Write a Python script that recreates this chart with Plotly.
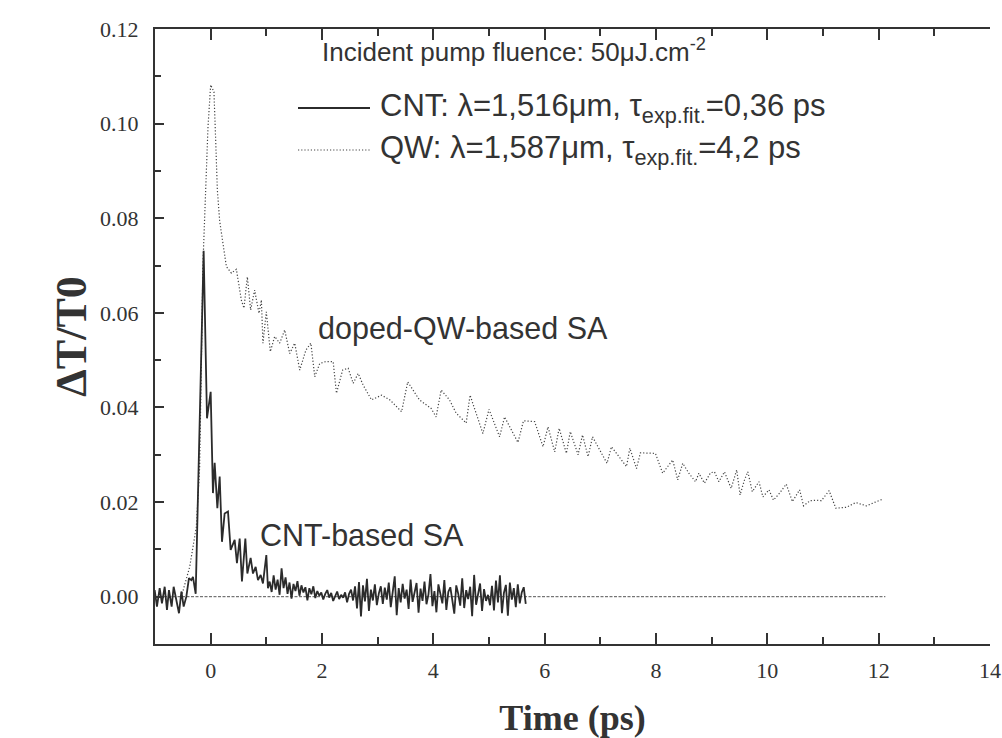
import numpy as np
import plotly.graph_objects as go

# ---------------- data ----------------
# CNT-based SA : explicit samples up to ~1 ps
cnt_head_t = [-1.006, -0.965, -0.916, -0.875, -0.826, -0.785, -0.749, -0.701, -0.665, -0.616,
              -0.569, -0.526, -0.485, -0.437, -0.390, -0.347, -0.318, -0.269, -0.126, -0.066,
              0.000, 0.041, 0.072, 0.120, 0.162, 0.203, 0.251, 0.311, 0.359, 0.431,
              0.472, 0.521, 0.562, 0.623, 0.659, 0.718, 0.760, 0.808, 0.850, 0.898,
              0.939, 1.000, 1.029]
cnt_head_v = [0.0014, -0.0021, 0.0018, -0.0014, 0.0021, -0.0028, 0.0014, -0.0021, 0.0021, -0.0007,
              -0.0035, 0.0011, -0.0021, 0.0000, 0.0039, 0.0035, 0.0042, 0.0006, 0.0731, 0.0377,
              0.0433, 0.0219, 0.0283, 0.0187, 0.0254, 0.0116, 0.0176, 0.0180, 0.0099, 0.0120,
              0.0071, 0.0123, 0.0032, 0.0123, 0.0049, 0.0082, 0.0049, 0.0063, 0.0035, 0.0046,
              0.0028, 0.0088, 0.0018]
# CNT-based SA : noisy tail (values in units of 1e-3), evenly sampled from 1.06 to 5.66 ps
cnt_tail_start, cnt_tail_end = 1.06, 5.66
cnt_tail_milli = [3.2, 1.0, 4.5, 1.5, 3.6, 0.4, 6.0, 1.8, 4.1, 0.6, 3.0, -0.4, 2.7, 1.2, 3.3, 0.2,
                  2.4, 0.9, 2.0, -0.8, 1.8, 0.5, 2.2, -0.3,
                  1.2, 0.2, 0.9, -0.6, 0.6, 1.4, -0.2, 0.8, -0.9, 0.3, 1.1, -0.5, 0.4, -0.2,
                  0.9, -1.2, 0.6, 1.5, -0.8, 2.2,
                  -2.5, 3.1, -4.2, 2.4, -1.0, 3.8, -3.0, 1.5, -0.8, 2.6, -1.8, 0.7, 2.2, -1.5,
                  1.9, -0.6, 3.0, -2.2, 1.0, 4.3, -3.9, 1.8, -1.2, 2.7, -0.4, 1.5, -2.6, 3.6,
                  -1.1, 0.8, 2.9, -3.4, 1.7, -0.9, 3.2, -1.6, 0.5, 4.8, -2.0, 1.2, -3.3, 2.6,
                  0.3, -1.4, 3.5, -2.8, 1.0, 2.0, -0.7, -3.6, 2.4, 0.6, -1.9, 3.9, -2.4, 1.4,
                  -0.5, 2.1, -4.1, 4.6, -1.7, 0.9, 2.8, -3.0, 1.6, -0.9, 0.4, -1.8, 2.3, -2.9,
                  3.4, -1.2, 4.5, -3.5, 0.8, 2.5, -4.0, 3.0, -0.6, 1.8, -2.2, 2.6, -1.4, 0.9,
                  2.0, -1.5]

# doped-QW-based SA
qw_t = [-0.526, -0.377, -0.257, -0.198, -0.138, -0.090, -0.048, 0.000, 0.059, 0.090,
        0.120, 0.162, 0.221, 0.282, 0.372, 0.462, 0.551, 0.598, 0.659, 0.718,
        0.790, 0.868, 0.911, 0.939, 1.000, 1.072, 1.150, 1.240, 1.330, 1.420,
        1.510, 1.600, 1.710, 1.800, 1.870, 1.960, 2.070, 2.200, 2.260, 2.370,
        2.470, 2.560, 2.650, 2.740, 2.890, 3.070, 3.220, 3.430, 3.540, 3.750,
        3.960, 4.050, 4.140, 4.290, 4.410, 4.590, 4.660, 4.890, 5.000, 5.190,
        5.280, 5.520, 5.620, 5.820, 5.970, 6.060, 6.180, 6.260, 6.390, 6.460,
        6.600, 6.680, 6.780, 6.860, 7.120, 7.200, 7.470, 7.530, 7.650, 7.720,
        7.990, 8.120, 8.300, 8.390, 8.480, 8.590, 8.710, 8.770, 8.870, 8.980,
        9.050, 9.130, 9.230, 9.350, 9.450, 9.510, 9.590, 9.650, 9.730, 9.850,
        9.920, 10.030, 10.110, 10.220, 10.340, 10.450, 10.580, 10.650, 10.770, 10.880,
        10.970, 11.110, 11.230, 11.420, 11.590, 11.780, 11.960, 12.070]
qw_v = [0.0000, 0.0063, 0.0148, 0.0274, 0.0705, 0.0853, 0.0993, 0.1082, 0.1067, 0.0965,
        0.0860, 0.0794, 0.0747, 0.0698, 0.0684, 0.0692, 0.0627, 0.0610, 0.0676, 0.0606,
        0.0648, 0.0599, 0.0627, 0.0536, 0.0602, 0.0518, 0.0550, 0.0536, 0.0564, 0.0514,
        0.0536, 0.0479, 0.0521, 0.0536, 0.0465, 0.0493, 0.0497, 0.0497, 0.0430, 0.0479,
        0.0483, 0.0451, 0.0472, 0.0447, 0.0416, 0.0426, 0.0416, 0.0391, 0.0454, 0.0416,
        0.0398, 0.0380, 0.0437, 0.0416, 0.0388, 0.0367, 0.0426, 0.0345, 0.0396, 0.0338,
        0.0380, 0.0326, 0.0372, 0.0370, 0.0317, 0.0359, 0.0306, 0.0356, 0.0303, 0.0349,
        0.0300, 0.0342, 0.0296, 0.0338, 0.0282, 0.0317, 0.0275, 0.0314, 0.0271, 0.0304,
        0.0303, 0.0261, 0.0289, 0.0247, 0.0282, 0.0261, 0.0243, 0.0261, 0.0240, 0.0262,
        0.0264, 0.0243, 0.0264, 0.0229, 0.0268, 0.0215, 0.0247, 0.0264, 0.0222, 0.0243,
        0.0211, 0.0226, 0.0204, 0.0219, 0.0238, 0.0201, 0.0226, 0.0192, 0.0203, 0.0204,
        0.0203, 0.0224, 0.0187, 0.0189, 0.0199, 0.0192, 0.0201, 0.0206]

# zero reference line
zero_t = [-1.0, 12.12]
zero_v = [0.0, 0.0]

x_ticks = [0, 2, 4, 6, 8, 10, 12, 14]
y_ticks = [0.00, 0.02, 0.04, 0.06, 0.08, 0.10, 0.12]

legend_cnt = "CNT: λ=1,516μm, τ<sub>exp.fit.</sub>=0,36 ps"
legend_qw = "QW: λ=1,587μm, τ<sub>exp.fit.</sub>=4,2 ps"
fluence_txt = "Incident pump fluence: 50μJ.cm<sup>-2</sup>"

# ---------------- build ----------------
cnt_tail_t = np.linspace(cnt_tail_start, cnt_tail_end, len(cnt_tail_milli))
cnt_t = list(cnt_head_t) + list(cnt_tail_t)
cnt_v = list(cnt_head_v) + [m / 1000.0 for m in cnt_tail_milli]

INK = "#333333"
SANS = "Liberation Sans, Arial, sans-serif"
SERIF = "Liberation Serif, Times New Roman, serif"

fig = go.Figure()
fig.add_trace(go.Scatter(x=zero_t, y=zero_v, mode="lines", showlegend=False,
                         line=dict(color="#555555", width=1, dash="3px,1.5px")))
fig.add_trace(go.Scatter(x=qw_t, y=qw_v, mode="lines", name="QW", showlegend=False,
                         line=dict(color="#444444", width=1.2, dash="1.2px,2px")))
fig.add_trace(go.Scatter(x=cnt_t, y=cnt_v, mode="lines", name="CNT", showlegend=False,
                         line=dict(color="#2b2b2b", width=1.8)))

# manual legend (line samples + texts), positions in paper fractions
L = 155.0; R = 990.0; T = 29.0; B = 644.0
def px(xp):
    return (xp - L) / (R - L)
def py(yp):
    return (B - yp) / (B - T)

fig.add_shape(type="line", xref="paper", yref="paper", x0=px(298), x1=px(370), y0=py(108), y1=py(108),
              line=dict(color="#2b2b2b", width=1.8))
fig.add_shape(type="line", xref="paper", yref="paper", x0=px(298), x1=px(370), y0=py(150), y1=py(150),
              line=dict(color="#444444", width=1.2, dash="1.2px,2px"))

ann = [
    dict(text=fluence_txt, x=px(320), y=py(50), size=26),
    dict(text=legend_cnt, x=px(378), y=py(108), size=31),
    dict(text=legend_qw, x=px(378), y=py(150), size=31),
    dict(text="doped-QW-based SA", x=px(316), y=py(328), size=30.5),
    dict(text="CNT-based SA", x=px(258), y=py(535), size=30.5),
]
for a in ann:
    fig.add_annotation(text=a["text"], x=a["x"], y=a["y"], xref="paper", yref="paper",
                       xanchor="left", yanchor="middle", showarrow=False,
                       font=dict(family=SANS, size=a["size"], color=INK))

axis_common = dict(showgrid=False, zeroline=False, showline=True, linecolor=INK, linewidth=2,
                   ticks="inside", tickcolor=INK, tickwidth=2, automargin=False,
                   tickfont=dict(family=SERIF, size=22, color=INK))

fig.update_xaxes(range=[-1.0, 14.0], tickvals=x_ticks, ticktext=[str(v) for v in x_ticks],
                 ticklen=11, mirror="ticks",
                 minor=dict(dtick=1, tick0=0, ticks="inside", ticklen=7, tickcolor=INK, tickwidth=2),
                 ticklabelstandoff=6,
                 title=dict(text="Time (ps)", standoff=22,
                            font=dict(family=SERIF, size=36, color=INK, weight="bold")),
                 **axis_common)
fig.update_yaxes(range=[-0.01, 0.12], tickvals=y_ticks, ticktext=["%.2f" % v for v in y_ticks],
                 ticklen=9, mirror=False,
                 minor=dict(dtick=0.01, tick0=0, ticks="inside", ticklen=6, tickcolor=INK, tickwidth=2),
                 ticklabelstandoff=10,
                 title=dict(text="ΔT/T0", standoff=0,
                            font=dict(family=SERIF, size=44, color=INK, weight="bold")),
                 **axis_common)

fig.update_layout(width=1002, height=738, plot_bgcolor="white", paper_bgcolor="white",
                  margin=dict(l=155, r=12, t=29, b=94), showlegend=False)

# place the figure at the page's top-left corner (remove the default body margin)
fig.write_html("out.html", config={"displayModeBar": False},
               post_script="document.body.style.margin='0px';")
